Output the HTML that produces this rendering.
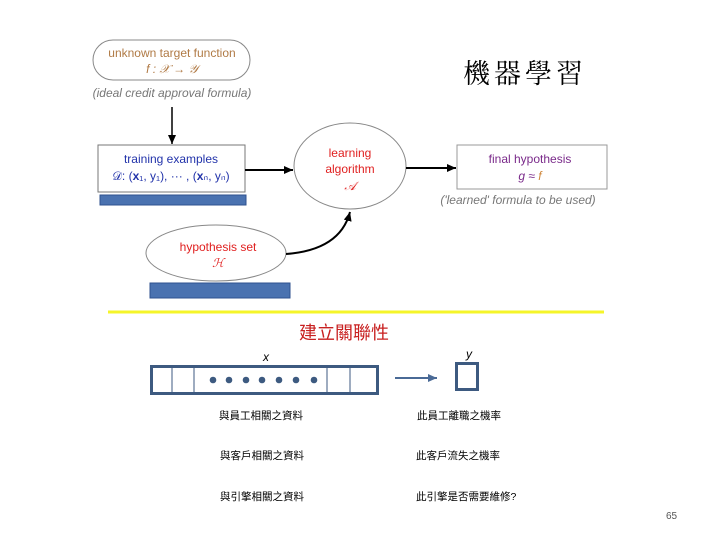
<!DOCTYPE html>
<html><head><meta charset="utf-8"><style>
body{margin:0;background:#fff;width:720px;height:540px;overflow:hidden}
svg{display:block}
text{font-family:"Liberation Sans","Noto Sans CJK TC",sans-serif}
</style></head><body>
<svg width="720" height="540" viewBox="0 0 720 540" xmlns="http://www.w3.org/2000/svg">
<defs><marker id="a" markerUnits="userSpaceOnUse" markerWidth="10" markerHeight="10" refX="9" refY="5" orient="auto"><path d="M0,1 L9,5 L0,9z" fill="#000"/></marker>
<marker id="b" markerUnits="userSpaceOnUse" markerWidth="10" markerHeight="10" refX="9" refY="5" orient="auto"><path d="M0,1 L9,5 L0,9z" fill="#4a6a96"/></marker></defs>
<rect x="93" y="40" width="157" height="40" rx="20" fill="#fff" stroke="#888"/>
<text x="172" y="57" font-size="12" fill="#b07a45" text-anchor="middle">unknown target function</text>
<text x="172" y="73" font-size="12" fill="#b07a45" text-anchor="middle" font-style="italic">f : 𝒳 → 𝒴</text>
<text x="172" y="97" font-size="12" fill="#777" text-anchor="middle" font-style="italic">(ideal credit approval formula)</text>
<line x1="172" y1="107" x2="172" y2="144" stroke="#000" stroke-width="1.5" marker-end="url(#a)"/>
<rect x="98" y="145" width="147" height="47" fill="#fff" stroke="#777"/>
<text x="171" y="163" font-size="12" fill="#2233aa" text-anchor="middle">training examples</text>
<text x="171" y="180" font-size="12" fill="#2233aa" text-anchor="middle">𝒟: (<tspan font-weight="bold">x</tspan>₁, y₁), ··· , (<tspan font-weight="bold">x</tspan>ₙ, yₙ)</text>
<rect x="100" y="195" width="146" height="10" fill="#4a72b0" stroke="#2f528f"/>
<line x1="245" y1="170" x2="293" y2="170" stroke="#000" stroke-width="2" marker-end="url(#a)"/>
<ellipse cx="350" cy="166" rx="56" ry="43" fill="#fff" stroke="#888"/>
<text x="350" y="157" font-size="12" fill="#e02020" text-anchor="middle">learning</text>
<text x="350" y="173" font-size="12" fill="#e02020" text-anchor="middle">algorithm</text>
<text x="350" y="190" font-size="12" fill="#e02020" text-anchor="middle" font-style="italic">𝒜</text>
<line x1="406" y1="168" x2="456" y2="168" stroke="#000" stroke-width="2" marker-end="url(#a)"/>
<rect x="457" y="145" width="150" height="44" fill="#fff" stroke="#999"/>
<text x="530" y="163" font-size="12" fill="#7a2a8a" text-anchor="middle">final hypothesis</text>
<text x="530" y="180" font-size="12" fill="#7a2a8a" text-anchor="middle" font-style="italic">g ≈ <tspan fill="#d08a40">f</tspan></text>
<text x="518" y="204" font-size="12" fill="#777" text-anchor="middle" font-style="italic">('learned' formula to be used)</text>
<ellipse cx="216" cy="253" rx="70" ry="28" fill="#fff" stroke="#888"/>
<text x="218" y="251" font-size="12" fill="#e02020" text-anchor="middle">hypothesis set</text>
<text x="218" y="267" font-size="12" fill="#e02020" text-anchor="middle" font-style="italic">ℋ</text>
<path d="M286,254 Q340,250 350,212" fill="none" stroke="#000" stroke-width="2" marker-end="url(#a)"/>
<rect x="150" y="283" width="140" height="15" fill="#4a72b0" stroke="#2f528f"/>
<line x1="108" y1="312" x2="604" y2="312" stroke="#f5f52a" stroke-width="3"/>
<text x="463" y="83" font-size="27" fill="#000" letter-spacing="4" style="font-family:'Noto Serif CJK SC',serif">機器學習</text>
<text x="344" y="339" font-size="18" fill="#c82020" text-anchor="middle">建立關聯性</text>
<text x="266" y="361" font-size="12" font-style="italic" text-anchor="middle">x</text>
<text x="469" y="358" font-size="12" font-style="italic" text-anchor="middle">y</text>
<rect x="151.5" y="366.5" width="226" height="27" fill="none" stroke="#3d5a80" stroke-width="3"/>
<g stroke="#3d5a80" stroke-width="1"><line x1="172" y1="366" x2="172" y2="394"/><line x1="194" y1="366" x2="194" y2="394"/><line x1="327" y1="366" x2="327" y2="394"/><line x1="350" y1="366" x2="350" y2="394"/></g>
<g fill="#3d5a80"><circle cx="213" cy="380" r="3.3"/><circle cx="229" cy="380" r="3.3"/><circle cx="246" cy="380" r="3.3"/><circle cx="262" cy="380" r="3.3"/><circle cx="279" cy="380" r="3.3"/><circle cx="296" cy="380" r="3.3"/><circle cx="314" cy="380" r="3.3"/></g>
<line x1="395" y1="378" x2="437" y2="378" stroke="#4a6a96" stroke-width="2" marker-end="url(#b)"/>
<rect x="456.5" y="363.5" width="21" height="26" fill="none" stroke="#3d5a80" stroke-width="3"/>
<g font-size="10.5" fill="#000">
<text x="219" y="419">與員工相關之資料</text>
<text x="417" y="419">此員工離職之機率</text>
<text x="220" y="459">與客戶相關之資料</text>
<text x="416" y="459">此客戶流失之機率</text>
<text x="220" y="500">與引擎相關之資料</text>
<text x="416" y="500">此引擎是否需要維修?</text>
</g>
<text x="666" y="519" font-size="10" fill="#555">65</text>
</svg>
</body></html>
